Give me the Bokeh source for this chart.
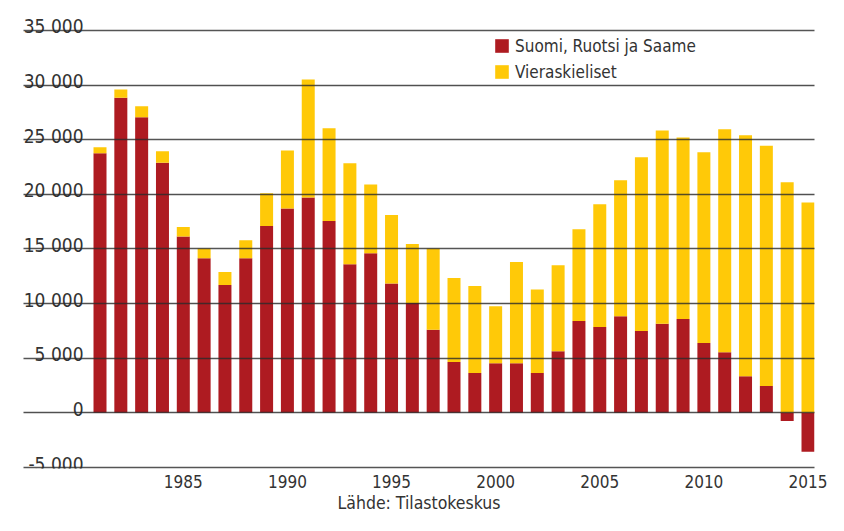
from bokeh.plotting import figure
from bokeh.models import ColumnDataSource, FixedTicker, Legend, LegendItem, Grid
from bokeh.core.properties import value
from bokeh.embed import file_html
from bokeh.resources import INLINE

# ---- data ----
years = list(range(1981, 2016))
native = [23750, 28850, 27050, 22900, 16150, 14150, 11700, 14150, 17100, 18700,
          19700, 17550, 13600, 14600, 11850, 10050, 7600, 4650, 3650, 4550,
          4550, 3650, 5650, 8400, 7850, 8850, 7500, 8150, 8600, 6400,
          5550, 3350, 2450, -750, -3550]
foreign = [550, 750, 1000, 1050, 850, 900, 1200, 1650, 3000, 5300,
           10800, 8500, 9250, 6300, 6250, 5400, 7450, 7700, 7950, 5200,
           9250, 7650, 7850, 8400, 11250, 12450, 15900, 17700, 16600, 17450,
           20400, 22050, 22000, 21100, 19250]
series_names = ["Suomi, Ruotsi ja Saame", "Vieraskieliset"]
y_ticks = [-5000, 0, 5000, 10000, 15000, 20000, 25000, 30000, 35000]
x_ticks = [1985, 1990, 1995, 2000, 2005, 2010, 2015]
source_text = "Lähde: Tilastokeskus"

RED = "#AE1B21"
YELLOW = "#FFC908"
TEXT = "#333333"
FONT = "Noto Sans Condensed, DejaVu Sans Condensed, sans-serif"


def fmt(v):
    return f"{v:,}".replace(",", " ")


native_bottom = [0] * len(years)
foreign_bottom = [max(v, 0) for v in native]
foreign_top = [b + f for b, f in zip(foreign_bottom, foreign)]

src = ColumnDataSource(dict(year=years, nb=native_bottom, nt=native,
                            fb=foreign_bottom, ft=foreign_top))

PX_PER_YEAR = 20.82
X0, X1 = 1977.326, 2015.312
p = figure(width=828, height=515, x_range=(X0, X1), y_range=(-5091, 37739),
           output_backend="svg", toolbar_location=None, y_axis_location=None,
           min_border_left=23, min_border_right=14, min_border_top=0,
           min_border_bottom=46, outline_line_color=None, title=None)
p.background_fill_color = "white"
p.border_fill_color = "white"
p.xgrid.visible = False

r1 = p.vbar(x="year", width=0.624, bottom="nb", top="nt", source=src,
            fill_color=RED, line_color=None)
r2 = p.vbar(x="year", width=0.624, bottom="fb", top="ft", source=src,
            fill_color=YELLOW, line_color=None)

grid = Grid(dimension=1, ticker=FixedTicker(ticks=y_ticks),
            grid_line_color="#2b2b2b", grid_line_alpha=0.8, grid_line_width=1.5,
            level="annotation")
p.add_layout(grid)

# y tick labels sitting above the grid lines
lab_src = ColumnDataSource(dict(x=[X0 + 60 / PX_PER_YEAR] * len(y_ticks), y=y_ticks,
                                t=[fmt(v) for v in y_ticks]))
p.text(x="x", y="y", text="t", source=lab_src, text_align="right",
       text_baseline="alphabetic", y_offset=-4, text_font=value(FONT),
       text_font_size="19px", text_color=TEXT)

ax = p.xaxis[0]
ax.ticker = FixedTicker(ticks=x_ticks)
ax.axis_line_color = None
ax.major_tick_line_color = None
ax.minor_tick_line_color = None
ax.major_tick_out = 0
ax.major_tick_in = 0
ax.major_label_standoff = 6
ax.major_label_text_font = FONT
ax.major_label_text_font_size = "17px"
ax.major_label_text_color = TEXT
ax.axis_label = source_text
ax.axis_label_standoff = 2
ax.axis_label_text_font = FONT
ax.axis_label_text_font_size = "17.5px"
ax.axis_label_text_font_style = "normal"
ax.axis_label_text_color = TEXT

legend = Legend(items=[LegendItem(label=series_names[0], renderers=[r1]),
                       LegendItem(label=series_names[1], renderers=[r2])],
                location=(470, 386), border_line_color=None,
                background_fill_alpha=0, padding=0, margin=0, spacing=5,
                glyph_width=17, glyph_height=17, label_standoff=5,
                label_text_font=FONT, label_text_font_size="17px",
                label_text_color=TEXT, label_height=21)
p.add_layout(legend)

open("out.html", "w").write(file_html(p, INLINE))
